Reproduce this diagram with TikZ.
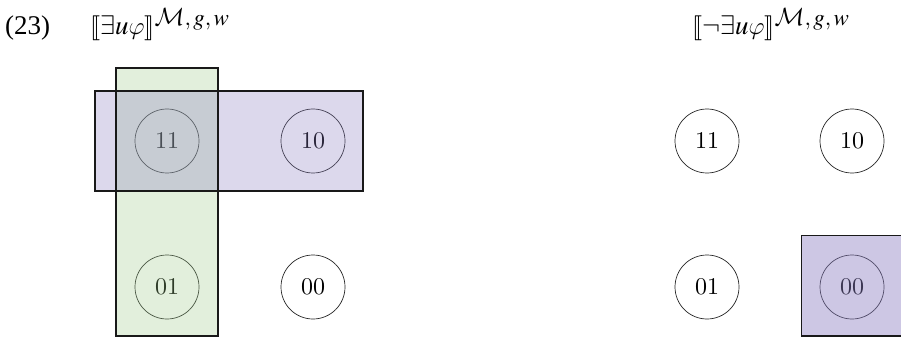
\documentclass[tikz,border=0pt]{standalone}
\usepackage{mathptmx}
\usepackage{stmaryrd}
\DeclareMathAlphabet{\mathcal}{OMS}{cmsy}{m}{n}
\DeclareSymbolFont{cmletters}{OML}{cmm}{m}{it}
\DeclareMathSymbol{\varphi}{\mathord}{cmletters}{"27}
\usepackage{fontspec}
\setmainfont{Latin Modern Roman}
\newfontfamily\tnr{Liberation Serif}
\font\digitfont=cmr10 at 24pt
\newcommand{\supx}[1]{^{\mbox{\fontsize{23}{23}\selectfont$#1$}}}
\tikzset{
  world/.style={circle,draw=black!85,line width=0.7pt,minimum size=64pt,inner sep=0pt,text=black,font=\digitfont},
  region/.style={draw=black!90,line width=1.9pt},
  head/.style={anchor=base west,inner sep=0pt,font=\fontsize{27}{30}\selectfont}
}
\definecolor{purp}{RGB}{138,125,192}
\definecolor{grn}{RGB}{158,202,138}
\begin{document}
\begin{tikzpicture}[x=1pt,y=-1pt]
\useasboundingbox (0,0) rectangle (901,339);
% headings
\node[head] (num) at (5,35) {\tnr (23)};
\node[head] (h1) at (90,35) {$\llbracket\exists u\varphi\rrbracket\supx{\mathcal{M},g,w}$};
\node[head] (h2) at (692,35) {$\llbracket\neg\exists u\varphi\rrbracket\supx{\mathcal{M},g,w}$};
% left worlds
\node[world] (a11) at (167,141) {11};
\node[world] (a10) at (313,141) {10};
\node[world] (a01) at (167,287) {01};
\node[world] (a00) at (313,287) {00};
% right worlds
\node[world] (b11) at (707,141) {11};
\node[world] (b10) at (852,141) {10};
\node[world] (b01) at (707,287) {01};
\node[world] (b00) at (852,287) {00};
% regions
\path[region,fill=grn,fill opacity=0.3] (116,68) rectangle (218,336);
\path[region,fill=purp,fill opacity=0.3] (95,91) rectangle (363,191);
\draw[region] (116,68) rectangle (218,336);
\path[region,fill=purp,fill opacity=0.43] (801.5,235.5) rectangle (902.5,336);
\end{tikzpicture}
\end{document}
